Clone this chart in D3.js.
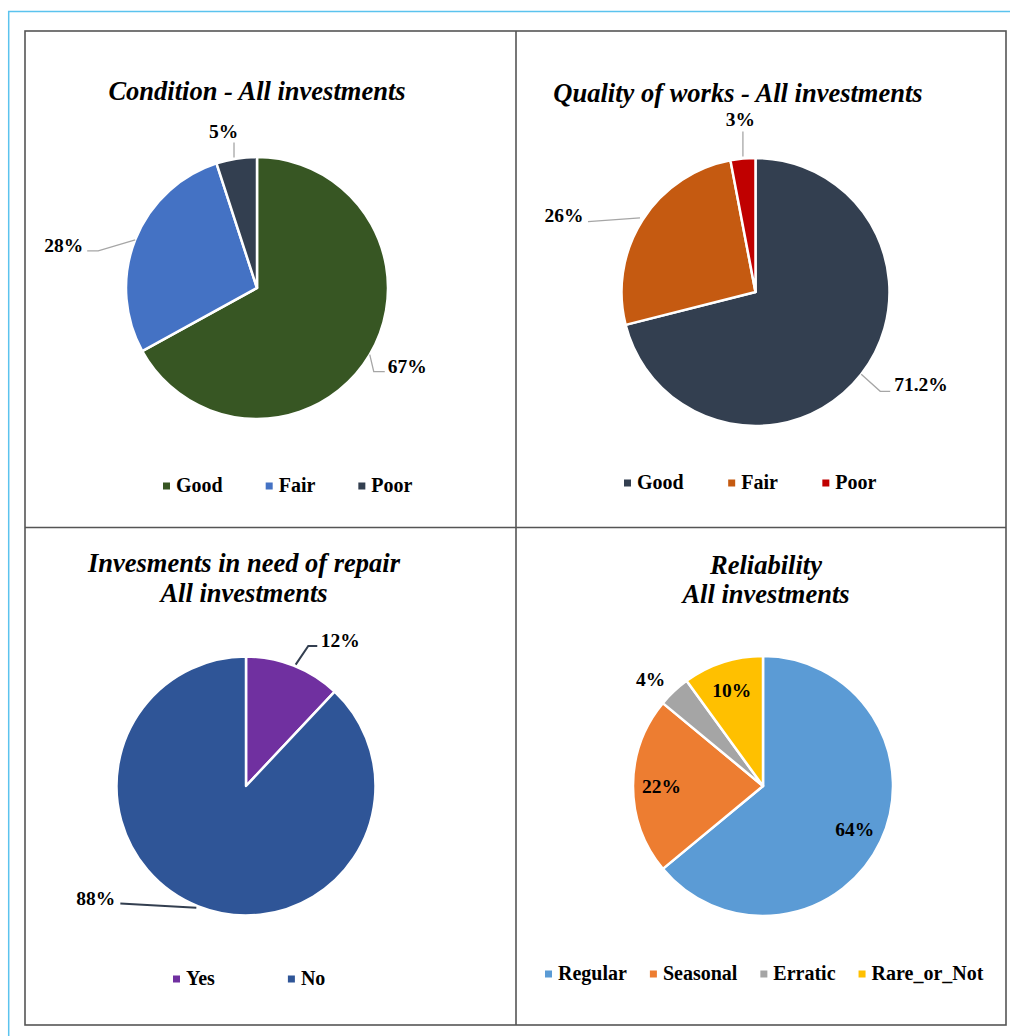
<!DOCTYPE html>
<html><head><meta charset="utf-8">
<script src="https://cdn.jsdelivr.net/npm/d3@7"></script>
<style>body{margin:0;background:#fff}svg{display:block}</style>
</head><body>
<svg id="c" width="1010" height="1036"></svg>
<script>
// ---------- DATA ----------
const conditionCategories = ["Good", "Fair", "Poor"];
const conditionValues = [67, 28, 5];
const qualityCategories = ["Good", "Fair", "Poor"];
const qualityValues = [71.2, 26, 3];
const repairCategories = ["Yes", "No"];
const repairValues = [12, 88];
const reliabilityCategories = ["Regular", "Seasonal", "Erratic", "Rare_or_Not"];
const reliabilityValues = [64, 22, 4, 10];

const conditionTitle = ["Condition - All investments"];
const qualityTitle = ["Quality of works - All investments"];
const repairTitle = ["Invesments in need of repair", "All investments"];
const reliabilityTitle = ["Reliability", "All investments"];

// ---------- LAYOUT / STYLE ----------
const serif = "'Liberation Serif','Times New Roman',Times,serif";
const panels = [
  { cats: conditionCategories, vals: conditionValues, title: conditionTitle,
    colors: ["#375623", "#4472C4", "#333F50"],
    titleX: 257, titleY: [100], cx: 257, cy: 288, r: 131,
    legendX: 163, legendY: 492, legendGap: 43,
    leaderColor: "#A6A6A6", leaderWidth: 1.3,
    labels: [
      { k: 1, leader: [[0, 0], [4, 17], [15, 17]], text: [18, 18], anchor: "start" },
      { k: 1, leader: [[0, 0], [-37, 11], [-48, 11]], text: [-52, 12], anchor: "end" },
      { k: 1, leader: [[-2.5, -1], [-2.5, -16]], text: [-13, -21], anchor: "middle" }
    ] },
  { cats: qualityCategories, vals: qualityValues, title: qualityTitle,
    colors: ["#333F50", "#C55A11", "#C00000"],
    titleX: 738, titleY: [102], cx: 755.5, cy: 292, r: 134,
    legendX: 624, legendY: 489, legendGap: 44.5,
    leaderColor: "#A6A6A6", leaderWidth: 1.3,
    labels: [
      { k: 1, leader: [[0, 0], [19, 17], [29, 17]], text: [33, 17], anchor: "start" },
      { k: 1, leader: [[-2.5, -2], [-54.5, 1.7]], text: [-59, 2], anchor: "end" },
      { k: 1, leader: [[0, -2], [0, -27]], text: [-2.6, -32.5], anchor: "middle" }
    ] },
  { cats: repairCategories, vals: repairValues, title: repairTitle,
    colors: ["#7030A0", "#2F5597"],
    titleX: 244, titleY: [572, 601.5], cx: 246, cy: 786, r: 129.5,
    legendX: 173, legendY: 985, legendGap: 73,
    leaderColor: "#333F50", leaderWidth: 2,
    labels: [
      { k: 1, leader: [[2, -1], [14.6, -19.6], [23.6, -19.6]], text: [27, -18.6], anchor: "start" },
      { k: 1, leader: [[-2, 1.3], [-78, -3]], text: [-83, -1.4], anchor: "end" }
    ] },
  { cats: reliabilityCategories, vals: reliabilityValues, title: reliabilityTitle,
    colors: ["#5B9BD5", "#ED7D31", "#A5A5A5", "#FFC000"],
    titleX: 766, titleY: [574, 603], cx: 763, cy: 786, r: 130,
    legendX: 545, legendY: 980, legendGap: 23,
    leaderColor: "#A6A6A6", leaderWidth: 1.3,
    labels: [
      { k: 0.78, text: [0, 7], anchor: "middle" },
      { k: 0.78, text: [0, 7], anchor: "middle" },
      { k: 1, text: [-23.5, -5.5], anchor: "middle" },
      { k: 0.78, text: [0, 7], anchor: "middle" }
    ] }
];

const svg = d3.select("#c");
svg.append("rect").attr("width", 1010).attr("height", 1036).attr("fill", "#fff");

// light-blue page border (top and left visible)
svg.append("rect").attr("x", 8.7).attr("y", 11.5).attr("width", 1100).attr("height", 1100)
  .attr("fill", "none").attr("stroke", "#5BC3EE").attr("stroke-width", 1.5);

// outer grid box + dividers
const grid = svg.append("g").attr("stroke", "#555").attr("stroke-width", 1.6).attr("fill", "none");
grid.append("rect").attr("x", 25).attr("y", 31).attr("width", 981).attr("height", 994);
grid.append("line").attr("x1", 516).attr("x2", 516).attr("y1", 31).attr("y2", 1025);
grid.append("line").attr("x1", 25).attr("x2", 1006).attr("y1", 527.5).attr("y2", 527.5);

const fmt = v => v + "%";

panels.forEach(p => {
  const g = svg.append("g");
  const color = d3.scaleOrdinal().domain(p.cats).range(p.colors);
  const pie = d3.pie().sort(null).value(d => d.v).startAngle(0).endAngle(2 * Math.PI);
  const data = p.cats.map((c, i) => ({ c, v: p.vals[i] }));
  const arcs = pie(data);
  const arc = d3.arc().innerRadius(0).outerRadius(p.r);

  // title
  const t = g.append("text").attr("text-anchor", "middle")
    .attr("font-family", serif).attr("font-weight", "bold").attr("font-style", "italic")
    .attr("font-size", 26.5).attr("fill", "#000");
  p.title.forEach((line, i) => {
    t.append("tspan").attr("x", p.titleX).attr("y", p.titleY[i]).text(line);
  });

  // slices
  const pg = g.append("g").attr("transform", `translate(${p.cx},${p.cy})`);
  pg.selectAll("path").data(arcs).join("path")
    .attr("d", arc).attr("fill", d => color(d.data.c))
    .attr("stroke", "#fff").attr("stroke-width", 2.5).attr("stroke-linejoin", "round");

  // labels + leaders
  arcs.forEach((a, i) => {
    const L = p.labels[i];
    const mid = (a.startAngle + a.endAngle) / 2;
    const bx = p.cx + p.r * L.k * Math.sin(mid);
    const by = p.cy - p.r * L.k * Math.cos(mid);
    if (L.leader) {
      g.append("path")
        .attr("d", d3.line()(L.leader.map(o => [bx + o[0], by + o[1]])))
        .attr("fill", "none").attr("stroke", p.leaderColor).attr("stroke-width", p.leaderWidth);
    }
    g.append("text").attr("x", bx + L.text[0]).attr("y", by + L.text[1])
      .attr("text-anchor", L.anchor)
      .attr("font-family", serif).attr("font-weight", "bold").attr("font-size", 19.5)
      .attr("fill", "#000").text(fmt(a.data.v));
  });

  // legend
  let x = p.legendX;
  p.cats.forEach(c => {
    g.append("rect").attr("x", x).attr("y", p.legendY - 9.5).attr("width", 7).attr("height", 7)
      .attr("fill", color(c));
    const tx = g.append("text").attr("x", x + 13).attr("y", p.legendY)
      .attr("font-family", serif).attr("font-weight", "bold").attr("font-size", 20)
      .attr("fill", "#000").text(c);
    const w = tx.node().getComputedTextLength();
    x += 13 + w + p.legendGap;
  });
});
</script>
</body></html>
